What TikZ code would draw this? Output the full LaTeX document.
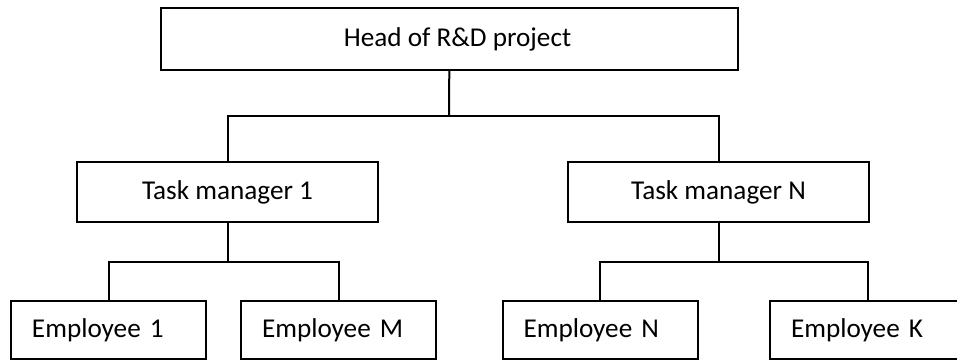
\documentclass[tikz,border=0pt]{standalone}
\usepackage{fontspec}
\setmainfont{Carlito}
\usetikzlibrary{positioning}
\newcommand{\gap}{\hspace{4.5pt}}
\tikzset{
    rolebox/.style={
        rectangle, draw=black, line width=1pt,
        minimum height=30pt, inner sep=0pt,
        fill=white, font=\fontsize{13.6}{16}\selectfont
    },
    headbox/.style={rolebox, line width=1.2pt, minimum width=288.5pt, minimum height=31pt},
    managerbox/.style={rolebox, minimum width=150.5pt},
    staffbox/.style={
        rolebox, minimum width=97.5pt, minimum height=29pt,
        text width=76.5pt, inner xsep=10.5pt, align=left
    },
    wire/.style={draw=black, line width=1pt}
}
\begin{document}
\begin{tikzpicture}[x=0.5pt, y=-0.5pt]
\useasboundingbox (0,0) rectangle (957,360);

% Head
\node[headbox] (head) at (449.5,39) {\hspace*{8pt}Head of R\&D project};
\coordinate (hsplit) at (449,116);

% Task managers
\node[managerbox] (tm1) at (227.5,192) {Task manager 1};
\node[managerbox] (tmn) at (718.5,192) {Task manager N};

\draw[wire] (head) -- (hsplit);
\draw[wire] (hsplit) -| (tm1);
\draw[wire] (hsplit) -| (tmn);

% Employees
\node[staffbox] (e1) at (108.5,330) {Employee\gap 1};
\node[staffbox] (em) at (338.5,330) {Employee\gap M};
\node[staffbox] (en) at (600,330) {Employee\gap N};
\node[staffbox] (ek) at (867.5,330) {Employee\gap K};

\coordinate (split1) at (227.5,262);
\coordinate (splitn) at (718.5,262);

\draw[wire] (tm1) -- (split1);
\draw[wire] (split1) -| (e1);
\draw[wire] (split1) -| (em);
\draw[wire] (tmn) -- (splitn);
\draw[wire] (splitn) -| (en);
\draw[wire] (splitn) -| (ek);

\end{tikzpicture}
\end{document}
